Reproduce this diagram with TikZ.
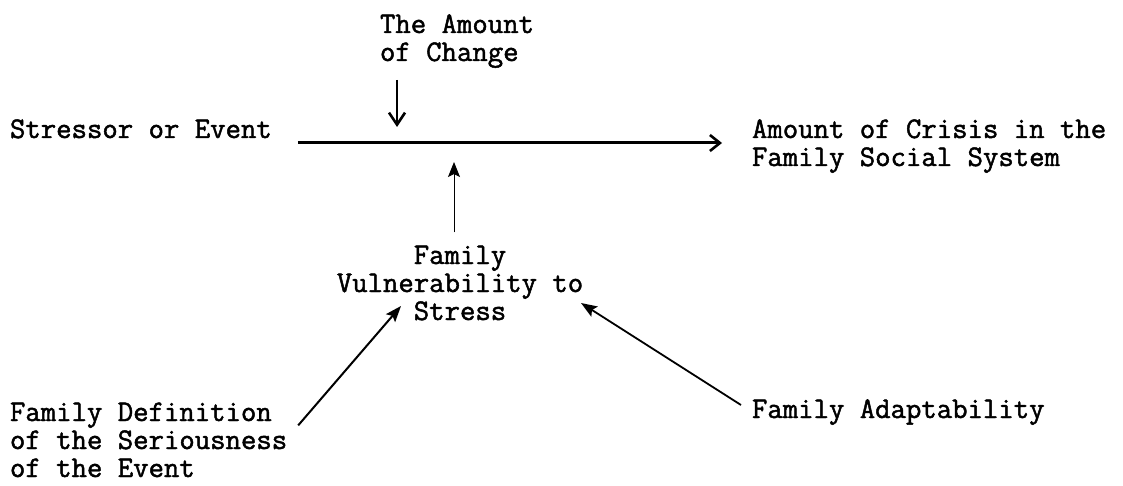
\documentclass[tikz,border=0pt]{standalone}
\usepackage{fontspec}
\newfontfamily\typew{Latin Modern Mono}[AutoFakeBold=1.6]
\usetikzlibrary{arrows.meta}
\begin{document}
\begin{tikzpicture}[x=1pt,y=-1pt,
  txt/.style={font=\fontsize{29.9}{28}\selectfont\typew\bfseries, inner sep=0pt, outer sep=0pt},
  mainline/.style={line width=3pt, -{Straight Barb[length=10pt,width=16pt,line width=2.6pt]}},
  downarr/.style={line width=1.6pt, -{Straight Barb[length=12pt,width=16pt,line width=2.6pt]}},
  uparr/.style={line width=1pt, -{Stealth[length=15pt,width=12pt,inset=3pt]}},
  diagarr/.style={line width=2pt, -{Stealth[length=16pt,width=12pt,inset=3pt]}}]
\useasboundingbox (0,0) rectangle (1123,486);
\fill[white] (0,0) rectangle (1123,486);

\node[txt, anchor=north west, align=left] (amount) at (380,13.4) {\strut The Amount\\of Change};
\node[txt, anchor=base west] (stressor) at (10,138) {Stressor or Event};
\node[txt, anchor=north west, align=left] (crisis) at (752,118.4) {\strut Amount of Crisis in the\\Family Social System};
\node[txt, anchor=north, align=center] (vuln) at (460,244.4) {\strut Family\\Vulnerability to\\Stress};
\node[txt, anchor=north west, align=left] (defn) at (10,401.4) {\strut Family Definition\\of the Seriousness\\of the Event};
\node[txt, anchor=base west] (adapt) at (752,418) {Family Adaptability};

\coordinate (cd) at (397,127);
\coordinate (cu) at (454,162);
\coordinate (t1) at (401,306);
\coordinate (t2) at (581,303);

\draw[mainline] ([xshift=26pt,yshift=-5pt]stressor.base east) -- ([xshift=-30pt,yshift=-24.6pt]crisis.north west);
\draw[downarr] ([xshift=17pt,yshift=-12pt]amount.south west) -- (cd);
\draw[uparr] ([xshift=-6pt,yshift=12pt]vuln.north) -- (cu);
\draw[diagarr] ([xshift=11pt,yshift=-24pt]defn.north east) -- (t1);
\draw[diagarr, line width=1.8pt] ([xshift=-11pt,yshift=13pt]adapt.base west) -- (t2);
\end{tikzpicture}
\end{document}
